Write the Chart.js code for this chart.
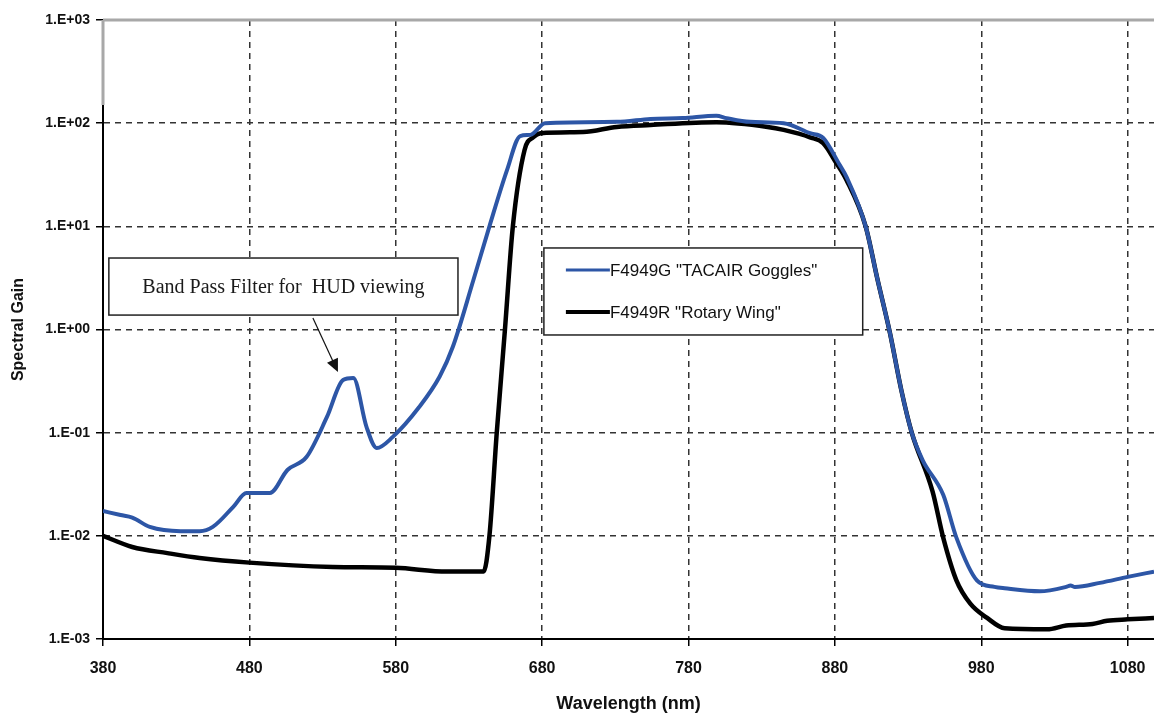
<!DOCTYPE html>
<html>
<head>
<meta charset="utf-8">
<script src="https://cdn.jsdelivr.net/npm/chart.js@4.4.0/dist/chart.umd.min.js"></script>
<style>
  html, body { margin: 0; padding: 0; background: #fff; }
  #wrap { width: 1154px; height: 715px; position: relative; }
</style>
</head>
<body>
<div id="wrap"><canvas id="myChart" width="1154" height="715"></canvas></div>
<script>
// F4949G "TACAIR Goggles"
const wavelengthsG = [380, 392, 400, 412, 433, 446, 455, 469, 478, 494, 506, 519, 533, 544, 551, 560, 567, 578, 596, 610, 619, 633, 644, 656, 665, 672, 682, 731, 754, 776, 799, 806, 822, 845, 863, 872, 883, 888, 901, 909, 917.5, 925.6, 932.6, 940, 954, 963, 977, 989, 996, 1020, 1038, 1041, 1044, 1061, 1080, 1098];
const gainG = [0.0174, 0.0159, 0.015, 0.0122, 0.0111, 0.0111, 0.0122, 0.0191, 0.026, 0.026, 0.0435, 0.058, 0.142, 0.324, 0.339, 0.114, 0.071, 0.091, 0.177, 0.35, 0.68, 3.0, 10, 35, 75, 77, 100, 103, 110, 112, 118, 112, 103, 100, 80, 72, 40, 30, 10, 3.1, 0.94, 0.25, 0.099, 0.054, 0.025, 0.0096, 0.0037, 0.0032, 0.0031, 0.0029, 0.0032, 0.0033, 0.0032, 0.0035, 0.004, 0.0045];

// F4949R "Rotary Wing"
const wavelengthsR = [380, 400, 424, 446, 480, 537, 580, 615, 640, 644, 649, 654.6, 660, 668, 674, 679, 708, 731, 754, 799, 834, 845, 863, 872, 881, 888, 901, 909, 917.5, 925.6, 932.6, 946.7, 954, 963, 972.5, 984, 996, 1025, 1038, 1056, 1066, 1080, 1098];
const gainR = [0.01, 0.0078, 0.0068, 0.0061, 0.0055, 0.005, 0.0049, 0.0045, 0.0045, 0.01, 0.1, 1.0, 10, 55, 73, 80, 82, 92, 96, 102, 92, 86, 73, 64, 41, 28, 10, 3.1, 0.94, 0.25, 0.099, 0.027, 0.0096, 0.0037, 0.0022, 0.0016, 0.00127, 0.00124, 0.00135, 0.0014, 0.0015, 0.00155, 0.0016];

const seriesNames = ['F4949G "TACAIR Goggles"', 'F4949R "Rotary Wing"'];
const xTickValues = [380, 480, 580, 680, 780, 880, 980, 1080];
const yTickValues = [1000, 100, 10, 1, 0.1, 0.01, 0.001];
const yTickLabels = ['1.E+03', '1.E+02', '1.E+01', '1.E+00', '1.E-01', '1.E-02', '1.E-03'];
const noteText = 'Band Pass Filter for  HUD viewing';

const BLUE = '#2d56a6';

function toPoints(xs, ys) {
  return xs.map((x, i) => ({ x: x, y: ys[i] }));
}

// legend box + annotation, placed in data coordinates
const overlay = {
  id: 'overlay',
  afterDraw(chart) {
    const ctx = chart.ctx;
    const xs = chart.scales.x, ys = chart.scales.y;
    const a = chart.chartArea;
    ctx.save();

    // scanned look: gray top frame and gray top of the left axis
    ctx.strokeStyle = '#a8a8a8';
    ctx.lineWidth = 3;
    ctx.beginPath();
    ctx.moveTo(a.left, a.top);
    ctx.lineTo(a.right, a.top);
    ctx.moveTo(a.left, a.top);
    ctx.lineTo(a.left, ys.getPixelForValue(150));
    ctx.stroke();

    // annotation box
    const bx1 = xs.getPixelForValue(384), bx2 = xs.getPixelForValue(622.5);
    const by1 = ys.getPixelForValue(4.93), by2 = ys.getPixelForValue(1.38);
    ctx.fillStyle = '#fff';
    ctx.fillRect(bx1, by1, bx2 - bx1, by2 - by1);
    ctx.strokeStyle = '#222';
    ctx.lineWidth = 1.5;
    ctx.strokeRect(bx1, by1, bx2 - bx1, by2 - by1);
    ctx.fillStyle = '#1a1a1a';
    ctx.font = '20px "Liberation Serif", "Times New Roman", serif';
    ctx.textAlign = 'center';
    ctx.textBaseline = 'middle';
    ctx.fillText(noteText, (bx1 + bx2) / 2, (by1 + by2) / 2 + 1);

    // arrow
    const ax1 = xs.getPixelForValue(523.4), ay1 = ys.getPixelForValue(1.29);
    const ax2 = xs.getPixelForValue(540.5), ay2 = ys.getPixelForValue(0.387);
    const ang = Math.atan2(ay2 - ay1, ax2 - ax1);
    ctx.strokeStyle = '#111';
    ctx.lineWidth = 1.2;
    ctx.beginPath();
    ctx.moveTo(ax1, ay1);
    ctx.lineTo(ax2 - 8 * Math.cos(ang), ay2 - 8 * Math.sin(ang));
    ctx.stroke();
    ctx.fillStyle = '#111';
    ctx.beginPath();
    ctx.moveTo(ax2, ay2);
    ctx.lineTo(ax2 - 13 * Math.cos(ang) + 6 * Math.sin(ang), ay2 - 13 * Math.sin(ang) - 6 * Math.cos(ang));
    ctx.lineTo(ax2 - 13 * Math.cos(ang) - 6 * Math.sin(ang), ay2 - 13 * Math.sin(ang) + 6 * Math.cos(ang));
    ctx.closePath();
    ctx.fill();

    // legend
    const lx1 = xs.getPixelForValue(681.2), lx2 = xs.getPixelForValue(899);
    const ly1 = ys.getPixelForValue(6.17), ly2 = ys.getPixelForValue(0.885);
    ctx.fillStyle = '#fff';
    ctx.fillRect(lx1, ly1, lx2 - lx1, ly2 - ly1);
    ctx.strokeStyle = '#222';
    ctx.lineWidth = 1.5;
    ctx.strokeRect(lx1, ly1, lx2 - lx1, ly2 - ly1);
    const rows = [
      { color: BLUE, width: 3, y: ly1 + 22 },
      { color: '#000', width: 4, y: ly1 + 64 }
    ];
    ctx.font = '17px "Liberation Sans", Arial, sans-serif';
    ctx.textAlign = 'left';
    ctx.textBaseline = 'middle';
    rows.forEach((r, i) => {
      ctx.strokeStyle = r.color;
      ctx.lineWidth = r.width;
      ctx.beginPath();
      ctx.moveTo(lx1 + 22, r.y);
      ctx.lineTo(lx1 + 66, r.y);
      ctx.stroke();
      ctx.fillStyle = '#111';
      ctx.fillText(seriesNames[i], lx1 + 66, r.y + 1);
    });
    ctx.restore();
  }
};

const ctx = document.getElementById('myChart').getContext('2d');
window.gainChart = new Chart(ctx, {
  type: 'line',
  data: {
    datasets: [{
      label: seriesNames[0],
      data: toPoints(wavelengthsG, gainG),
      borderColor: BLUE,
      borderWidth: 4,
      pointRadius: 0,
      fill: false,
      cubicInterpolationMode: 'monotone'
    }, {
      label: seriesNames[1],
      data: toPoints(wavelengthsR, gainR),
      borderColor: '#000',
      borderWidth: 4.5,
      pointRadius: 0,
      fill: false,
      cubicInterpolationMode: 'monotone'
    }]
  },
  options: {
    responsive: false,
    animation: false,
    devicePixelRatio: 1,
    layout: { padding: { top: 20, right: 0, left: 0, bottom: 0 } },
    plugins: {
      legend: { display: false },
      tooltip: { enabled: false }
    },
    scales: {
      x: {
        type: 'linear',
        min: 380,
        max: 1098,
        afterBuildTicks: (scale) => { scale.ticks = xTickValues.map(v => ({ value: v })); },
        afterFit: (scale) => { scale.height = 76; scale.paddingRight = 0; scale.paddingLeft = 0; },
        ticks: {
          color: '#111',
          padding: 13,
          maxRotation: 0,
          autoSkip: false,
          callback: (v) => String(v),
          font: { family: '"Liberation Sans", Arial, sans-serif', size: 16, weight: 'bold' }
        },
        grid: { color: '#333', lineWidth: 1.5, tickLength: 7, tickColor: '#000', tickWidth: 1.5 },
        border: { color: '#000', width: 2, dash: [6, 5] },
        title: {
          display: true,
          text: 'Wavelength (nm)',
          color: '#111',
          padding: { top: 6, bottom: 0 },
          font: { family: '"Liberation Sans", Arial, sans-serif', size: 18, weight: 'bold' }
        }
      },
      y: {
        type: 'logarithmic',
        min: 0.001,
        max: 1000,
        afterBuildTicks: (scale) => { scale.ticks = yTickValues.map(v => ({ value: v })); },
        afterFit: (scale) => { scale.width = 103; },
        ticks: {
          color: '#111',
          padding: 6,
          autoSkip: false,
          callback: (v, i) => yTickLabels[i],
          font: { family: '"Liberation Sans", Arial, sans-serif', size: 14, weight: 'bold' }
        },
        grid: { color: '#333', lineWidth: 1.5, tickLength: 7, tickColor: '#000', tickWidth: 1.5 },
        border: { color: '#000', width: 2, dash: [6, 5] },
        title: {
          display: true,
          text: 'Spectral Gain',
          color: '#111',
          padding: { top: 9, bottom: 0 },
          font: { family: '"Liberation Sans", Arial, sans-serif', size: 16, weight: 'bold' }
        }
      }
    }
  },
  plugins: [overlay]
});
</script>
</body>
</html>
